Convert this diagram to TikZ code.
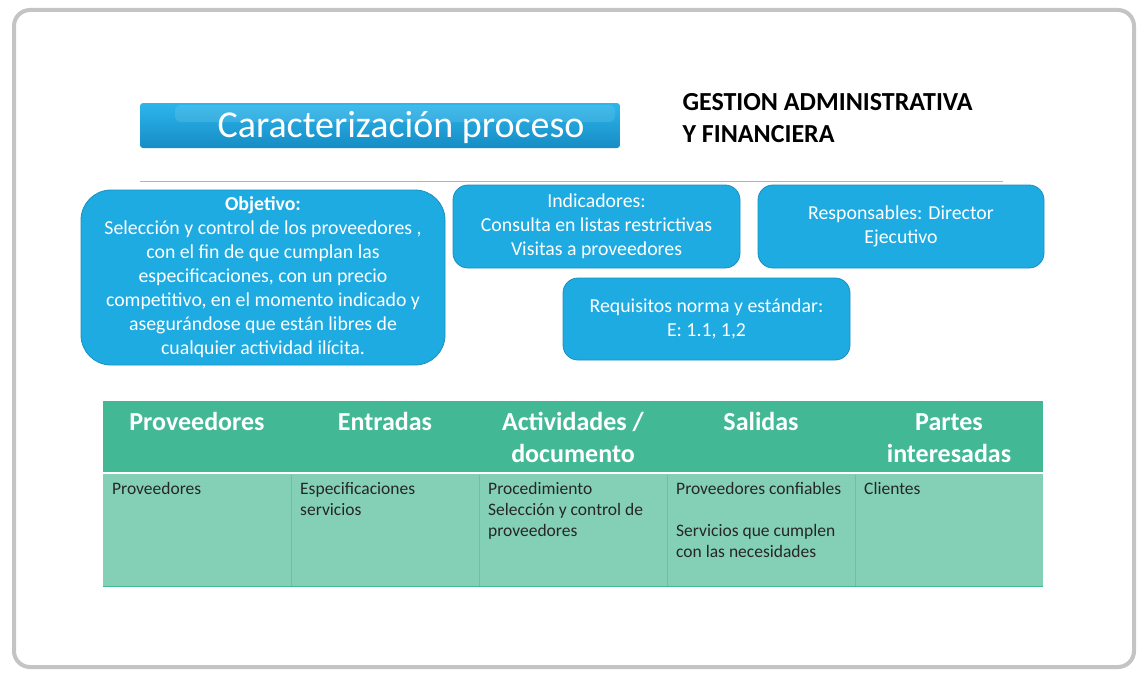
\documentclass[tikz,border=0pt]{standalone}
\usepackage{fontspec}
\setmainfont{Carlito}
\definecolor{framegray}{HTML}{C4C4C4}
\definecolor{rulegray}{HTML}{B4B4B4}
\definecolor{boxblue}{HTML}{1EABE2}
\definecolor{boxedge}{HTML}{1A8FC0}
\definecolor{bartop}{HTML}{2DB6EC}
\definecolor{barbottom}{HTML}{168CC4}
\definecolor{headgreen}{HTML}{42B994}
\definecolor{bodygreen}{HTML}{84D0B6}
\definecolor{linegreen}{HTML}{6AC2A4}
\begin{document}
\begin{tikzpicture}[x=1pt,y=-1pt]

      \useasboundingbox (0,0) rectangle (1145,685);
      \fill[white] (0,0) rectangle (1145,685);
      \draw[framegray, line width=4pt, rounded corners=16pt] (14,10) rectangle (1134,667);

      % title
      \node (bar) [minimum width=480pt, minimum height=45pt, inner sep=0pt,
        rounded corners=3pt, top color=bartop, bottom color=barbottom] at (380,125.5) {};
      \fill[white, opacity=.1, rounded corners=6pt] (175,105) rectangle (615,122);
      \node (title) [text=white, font=\fontsize{38}{44}\selectfont] at (401,127) {Caracterización proceso};
      \node (area1) [anchor=base west, font=\bfseries\fontsize{26}{32}\selectfont] at (679,110) {GESTION ADMINISTRATIVA};
      \node (area2) [anchor=base west, font=\bfseries\fontsize{26}{32}\selectfont] at (679,142) {Y FINANCIERA};
      \draw[rulegray, line width=1pt] (140,181) -- (1003,181);

      % info boxes
      \begin{scope}[every node/.style={draw=boxedge, fill=boxblue, line width=.8pt, text=white,
          align=center, inner sep=0pt, font=\fontsize{19.8}{24}\selectfont}]
        \node (obj) [minimum width=364pt, minimum height=175pt, rounded corners=30pt] at (263,277.5)
          {\textbf{Objetivo:}\\Selección y control de los proveedores ,\\con el fin de que cumplan las\\especificaciones, con un precio\\competitivo, en el momento indicado y\\asegurándose que están libres de\\cualquier actividad ilícita.};
        \node (ind) [minimum width=287pt, minimum height=83pt, rounded corners=15pt] at (596.5,226.5)
          {Indicadores:\\Consulta en listas restrictivas\\Visitas a proveedores};
        \node (resp) [minimum width=286pt, minimum height=83pt, rounded corners=15pt] at (901,226.5)
          {Responsables: Director\\Ejecutivo};
        \node (req) [minimum width=287pt, minimum height=82pt, rounded corners=15pt] at (706.5,319)
          {Requisitos norma y estándar:\\E: 1.1, 1,2};
      \end{scope}

      % table
      \fill[headgreen] (103,401) rectangle (1043,473);
      \fill[bodygreen] (103,473) rectangle (1043,586);
      \draw[white, line width=2.5pt] (103,473) -- (1043,473);
      \draw[headgreen, line width=1pt] (103,586) -- (1043,586);
      \foreach \x in {291,479,667,855}
        \draw[linegreen, line width=1pt] (\x,474.5) -- (\x,586);

      \begin{scope}[every node/.style={anchor=north, text=white, align=center, inner sep=0pt,
          font=\bfseries\fontsize{26}{32}\selectfont}]
        \node (h1) at (197,407.6) {\strut Proveedores};
        \node (h2) at (385,407.6) {\strut Entradas};
        \node (h3) at (573,407.6) {\strut Actividades /\\documento};
        \node (h4) at (761,407.6) {\strut Salidas};
        \node (h5) at (949,407.6) {\strut Partes\\interesadas};
      \end{scope}

      \begin{scope}[every node/.style={anchor=north west, text=black!85, align=left, inner sep=0pt,
          font=\fontsize{17.5}{21}\selectfont}]
        \node (c1) at (112,479.3) {\strut Proveedores};
        \node (c2) at (300,479.3) {\strut Especificaciones\\servicios};
        \node (c3) at (488,479.3) {\strut Procedimiento\\Selección y control de\\proveedores};
        \node (c4) at (676,479.3) {\strut Proveedores confiables\\[21pt]Servicios que cumplen\\con las necesidades};
        \node (c5) at (864,479.3) {\strut Clientes};
      \end{scope}

    \end{tikzpicture}
\end{document}
